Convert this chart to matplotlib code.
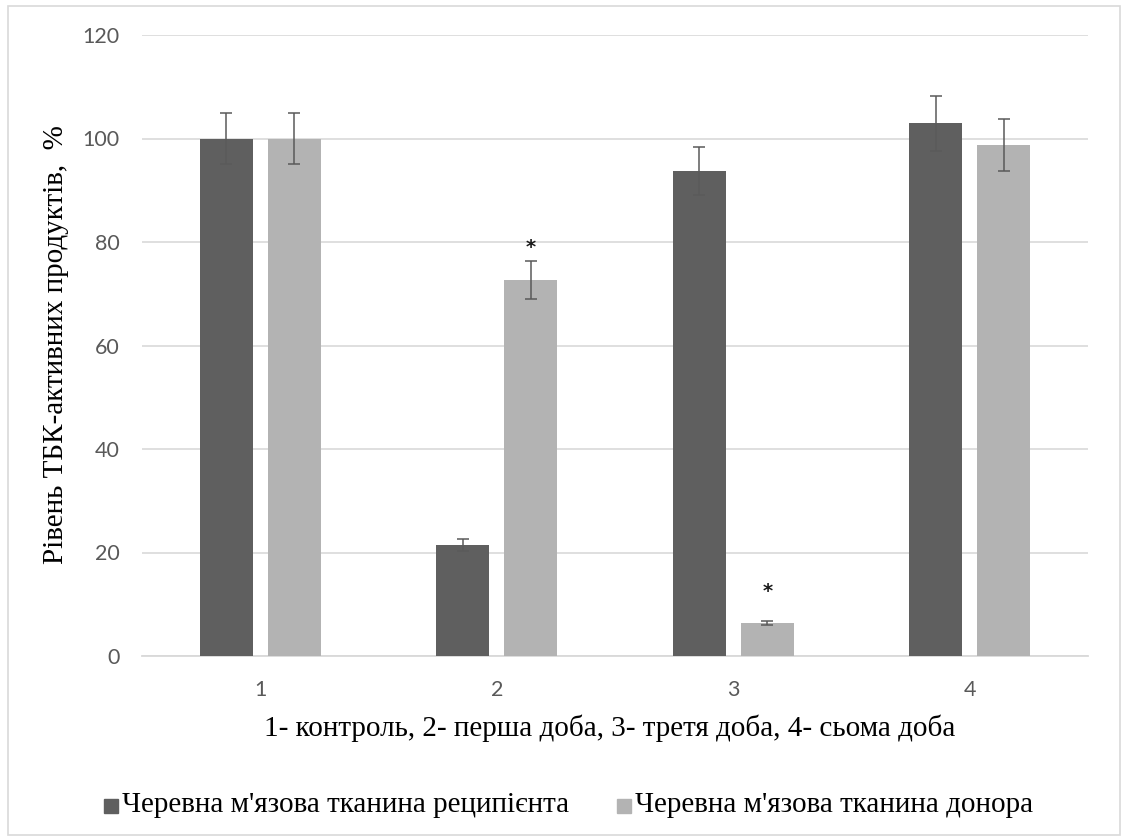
import numpy as np
import matplotlib.pyplot as plt
from matplotlib.patches import Rectangle

# data
groups = ['1', '2', '3', '4']
recipient = [100.0, 21.4, 93.7, 102.9]
recipient_err = [5.0, 1.2, 4.7, 5.3]
donor = [100.0, 72.6, 6.3, 98.7]
donor_err = [5.0, 3.7, 0.4, 5.0]
star_y = [None, 79.0, 12.4, None]   # significance marks over donor bars

label_rec = "Черевна м'язова тканина реципієнта"
label_don = "Черевна м'язова тканина донора"
xlab = '1- контроль, 2- перша доба, 3- третя доба, 4- сьома доба'
ylab = 'Рівень ТБК-активних продуктів,  %'

W, H = 1122, 836
fig = plt.figure(figsize=(W / 100, H / 100), dpi=100)
ax = fig.add_axes([142 / W, 1 - 656 / H, (1088 - 142) / W, (656 - 35) / H])

x = np.arange(len(groups))
bw = 0.224
off = 0.144
dark, light = '#5f5f5f', '#b3b3b3'
ekw = dict(ecolor='#5a5a5a', elinewidth=1.1, capsize=4.3, capthick=1.1)

ax.bar(x - off, recipient, bw, color=dark, yerr=recipient_err, error_kw=ekw, zorder=3)
ax.bar(x + off, donor, bw, color=light, yerr=donor_err, error_kw=ekw, zorder=3)

for i, s in enumerate(star_y):
    if s is not None:
        ax.text(x[i] + off, s, '*', ha='center', va='center', fontsize=14,
                fontweight='bold', color='#1a1a1a', family='DejaVu Sans', zorder=4)

ax.set_xlim(-0.5, len(groups) - 0.5)
ax.set_ylim(0, 120)
ax.set_yticks(np.arange(0, 121, 20))
ax.set_xticks(x)
ax.set_xticklabels(groups)
ax.yaxis.grid(True, color='#d9d9d9', linewidth=1.2, zorder=0)
ax.set_axisbelow(True)
for sp in ['top', 'right', 'left']:
    ax.spines[sp].set_visible(False)
ax.spines['bottom'].set_color('#d9d9d9')
ax.spines['bottom'].set_linewidth(1.3)
ax.tick_params(length=0, labelsize=15.5, labelcolor='#595959')
ax.tick_params(axis='x', pad=17)
ax.tick_params(axis='y', pad=16)
for t in ax.get_xticklabels() + ax.get_yticklabels():
    t.set_family('Lato')

fig.text(610 / W, 1 - 728 / H, xlab, ha='center', va='center',
         fontsize=21, family='Liberation Serif', color='black')
fig.text(56 / W, 1 - 345 / H, ylab, ha='center', va='center', rotation=90,
         fontsize=21, family='Liberation Serif', color='black')

# legend
fig.patches.append(Rectangle((104 / W, 1 - 813 / H), 14 / W, 14 / H, color=dark,
                             transform=fig.transFigure))
fig.text(122 / W, 1 - 805 / H, label_rec, ha='left', va='center',
         fontsize=21, family='Liberation Serif')
fig.patches.append(Rectangle((617 / W, 1 - 813 / H), 14 / W, 14 / H, color=light,
                             transform=fig.transFigure))
fig.text(635 / W, 1 - 805 / H, label_don, ha='left', va='center',
         fontsize=21, family='Liberation Serif')

# chart border
fig.patches.append(Rectangle((8 / W, 1 / H), (1120 - 8) / W, (835 - 6) / H,
                             fill=False, edgecolor='#d9d9d9', linewidth=1.2,
                             transform=fig.transFigure))

fig.savefig('out.png', dpi=100)
